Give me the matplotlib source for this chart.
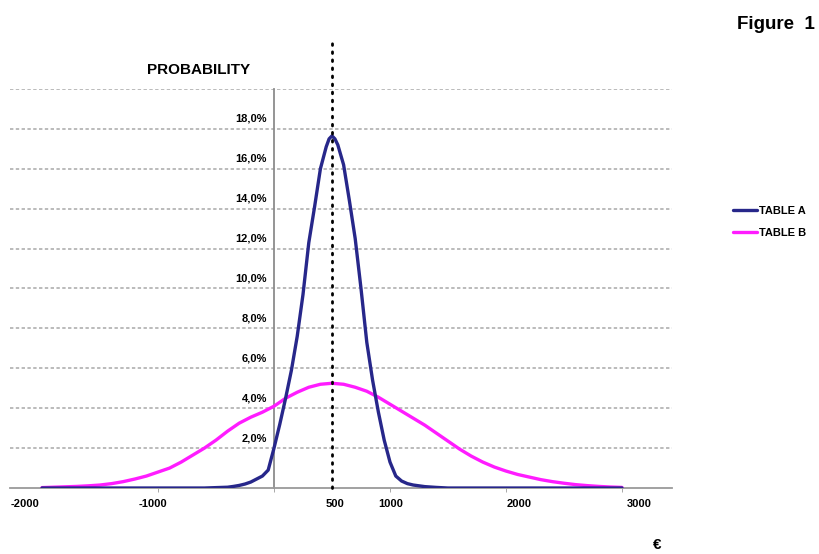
import matplotlib
matplotlib.use("Agg")
import matplotlib.pyplot as plt
from matplotlib.transforms import ScaledTranslation

plt.rcParams['font.family'] = ['Liberation Sans', 'DejaVu Sans']

# Outcome grid (EUR) and probability (%) for each table
euro_a = [-2000, -1000, -600, -500, -400, -350, -300, -250, -200, -150, -100, -50,
          0, 50, 100, 150, 200, 250, 300, 350, 400, 450, 475, 500, 525, 550, 600, 650, 700,
          750, 800, 850, 900, 950, 1000, 1050, 1100, 1150, 1200, 1300, 1400, 1500, 3000]
prob_a = [0.0, 0.0, 0.0, 0.02, 0.04, 0.08, 0.13, 0.2, 0.3, 0.45, 0.6, 0.9,
          2.0, 3.2, 4.5, 5.9, 7.6, 9.7, 12.3, 14.1, 16.0, 17.1, 17.5, 17.65, 17.5, 17.2, 16.2, 14.4, 12.5,
          10.0, 7.3, 5.4, 3.8, 2.4, 1.3, 0.6, 0.35, 0.22, 0.15, 0.07, 0.03, 0.0, 0.0]

euro_b = list(range(-2000, 3001, 100))
prob_b = [0.02, 0.04, 0.06, 0.08, 0.11, 0.15, 0.22, 0.32, 0.45, 0.6,
          0.8, 1.0, 1.3, 1.65, 2.0, 2.4, 2.85, 3.25, 3.55, 3.8,
          4.1, 4.5, 4.8, 5.05, 5.2, 5.25, 5.2, 5.05, 4.85, 4.55,
          4.2, 3.85, 3.5, 3.15, 2.75, 2.35, 1.95, 1.6, 1.3, 1.05,
          0.85, 0.68, 0.55, 0.42, 0.32, 0.24, 0.17, 0.12, 0.08, 0.05, 0.03]

series_names = ["TABLE A", "TABLE B"]
series_colors = ["#27278a", "#ff1cff"]

mean_value = 500
grid_levels = [2, 4, 6, 8, 10, 12, 14, 16, 18, 20]
y_tick_labels = ["2,0%", "4,0%", "6,0%", "8,0%", "10,0%", "12,0%", "14,0%", "16,0%", "18,0%", ""]
x_tick_labels = ["-2000", "-1000", "500", "1000", "2000", "3000"]
x_label_at = [-2150, -1040, 530, 1010, 2110, 3150]
x_tick_marks = [-1000, 0, 1000, 2000, 3000]

fig = plt.figure(figsize=(8.19, 5.54), dpi=100)
ax = fig.add_axes([0.0122, 0.1191, 0.8083, 0.7203])
ax.set_xlim(-2276, 3431)
ax.set_ylim(0, 20)

# dashed horizontal grid
for lvl in grid_levels:
    ax.axhline(lvl, color="#a8a8a8", lw=1.1, ls=(0, (2.2, 1.6)), zorder=1)

ax.plot(euro_a, prob_a, color=series_colors[0], lw=2.4, label=series_names[0],
        zorder=4, solid_capstyle='round', solid_joinstyle='round')
ax.plot(euro_b, prob_b, color=series_colors[1], lw=2.4, label=series_names[1],
        zorder=3, solid_capstyle='round', solid_joinstyle='round')

# mean marker reaching above the plot area
ax.plot([mean_value, mean_value], [0, 22.6], color="black", lw=2.0,
        ls=(0, (0.6, 2.3)), dash_capstyle='round', clip_on=False, zorder=5)

# axes lines
for s in ["top", "right"]:
    ax.spines[s].set_visible(False)
ax.spines["left"].set_position(("data", 0))
ax.spines["left"].set_color("#8c8c8c")
ax.spines["left"].set_linewidth(1.3)
ax.spines["bottom"].set_color("#9a9a9a")
ax.spines["bottom"].set_linewidth(1.3)

ax.set_yticks(grid_levels)
ax.set_yticklabels(y_tick_labels, fontsize=8, fontweight="bold")
ax.tick_params(axis="y", length=0, pad=5)
for lab in ax.get_yticklabels():
    lab.set_transform(lab.get_transform() + ScaledTranslation(0, 0.11, fig.dpi_scale_trans))

ax.set_xticks(x_label_at)
ax.set_xticklabels(x_tick_labels, fontsize=8, fontweight="bold")
ax.tick_params(axis="x", which="major", length=0, pad=8)
ax.set_xticks(x_tick_marks, minor=True)
ax.tick_params(axis="x", which="minor", length=3, color="#9a9a9a", direction="out")

fig.text(0.243, 0.873, "PROBABILITY", fontsize=11, fontweight="bold", ha="center", va="center")
fig.text(0.802, 0.017, "€", fontsize=11, fontweight="bold", ha="center", va="center")
fig.text(0.995, 0.955, "Figure  1", fontsize=13.5, fontweight="bold", ha="right", va="center")

fig.legend(loc="upper left", bbox_to_anchor=(0.883, 0.647), frameon=False,
           handlelength=2.1, handletextpad=0.25, labelspacing=1.1,
           prop={"size": 8, "weight": "bold"})

fig.savefig("out.png", dpi=100, facecolor="white")
